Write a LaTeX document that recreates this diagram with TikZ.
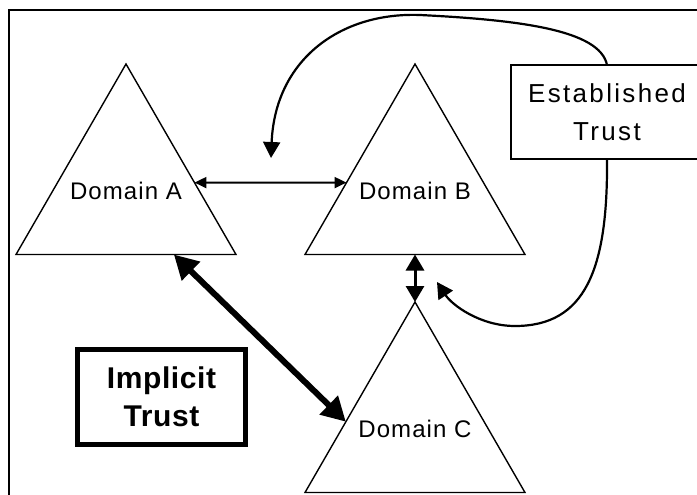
\documentclass[tikz,border=0pt]{standalone}
\usepackage{fontspec}
\setmainfont{Liberation Sans}
\newfontfamily\domfont[LetterSpace=4.5]{Liberation Sans}
\newfontfamily\estfont[LetterSpace=9]{Liberation Sans}
\newfontfamily\impfont[LetterSpace=2]{Liberation Sans}
\usetikzlibrary{arrows.meta, shapes.geometric, positioning}

\begin{document}
\begin{tikzpicture}[x=1pt, y=-1pt, line width=1.5pt,
    domaintri/.style={draw, regular polygon, regular polygon sides=3, minimum size=254pt,
      inner sep=0pt, outer sep=0pt, line width=1.4pt,
      label={[font=\fontsize{24}{28}\domfont]center:#1}},
    trustbox/.style={draw, fill=white, align=center, inner sep=0pt, outer sep=0pt},
    link/.style={{Triangle[length=12pt,width=11pt]}-{Triangle[length=12pt,width=11pt]}}]
        \useasboundingbox (0,0) rectangle (697,495);
        \clip (0,0) rectangle (697,495);
        \draw[line width=2pt] (9,10) rectangle (720,520);
        \node[domaintri=Domain A] (A) at (126,191) {};
        \node[domaintri=Domain B] (B) at (415,191) {};
        \node[domaintri=Domain C] (C) at (415,429) {};
        \node[trustbox, line width=2pt, minimum width=192pt, minimum height=94pt,
          font=\fontsize{26}{38}\estfont] (est) at (607,112) {Established\\Trust};
        \node[trustbox, line width=5pt, minimum width=168pt, minimum height=95pt,
          font=\fontsize{30}{38}\impfont\bfseries] (imp) at (161.5,397) {Implicit\\Trust};
        \coordinate (tipab) at (271,158);
        \coordinate (tipbc) at (437,282);
        \draw[line width=2pt, link] (A.7) -- (B.173);
        \draw[line width=3pt, {Triangle[length=16pt,width=18pt]}-{Triangle[length=16pt,width=18pt]}] (B.side 2) -- (C.corner 1);
        \draw[line width=6pt, {Triangle[length=24pt,width=25pt]}-{Triangle[length=24pt,width=25pt]}] (A.-53) -- (C.174);
        \draw[line width=2.2pt, -{Triangle[length=16pt,width=17pt]}] (est.north)
          .. controls (600,30) and (520,20) .. (420,15)
          .. controls (340,12) and (275,60) .. (tipab);
        \draw[line width=2.2pt, -{Triangle[length=16pt,width=17pt]}] (est.south)
          .. controls (608,270) and (585,326) .. (515,326)
          .. controls (480,326) and (452,305) .. (tipbc);
    \end{tikzpicture}
\end{document}
